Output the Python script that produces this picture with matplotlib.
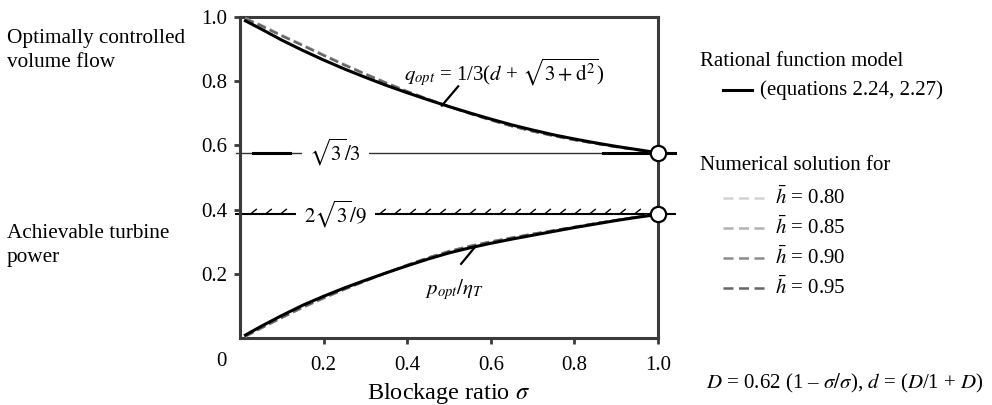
import numpy as np
import matplotlib
matplotlib.use("Agg")
import matplotlib.pyplot as plt
from matplotlib.lines import Line2D
from matplotlib.path import Path

plt.rcParams['font.family'] = ['Liberation Serif', 'DejaVu Serif']
plt.rcParams['mathtext.fontset'] = 'stix'

# blockage ratio sigma
sigma = [0.013, 0.05, 0.1, 0.15, 0.2, 0.25, 0.3, 0.35, 0.4, 0.45, 0.5,
         0.55, 0.6, 0.65, 0.7, 0.75, 0.8, 0.85, 0.9, 0.95, 1.0]

# rational function model
q_model = [0.988, 0.963, 0.928, 0.896, 0.866, 0.838, 0.812, 0.787, 0.764, 0.742, 0.721,
           0.701, 0.682, 0.664, 0.648, 0.633, 0.620, 0.608, 0.597, 0.587, 0.577]
p_model = [0.009, 0.036, 0.070, 0.102, 0.130, 0.156, 0.180, 0.203, 0.225, 0.246, 0.265,
           0.281, 0.295, 0.308, 0.320, 0.332, 0.344, 0.355, 0.366, 0.376, 0.385]

# numerical solutions for h = 0.80 ... 0.95
h_labels = ['0.80', '0.85', '0.90', '0.95']
h_colors = ['#d2d2d2', '#b2b2b2', '#8c8c8c', '#666666']
q_num_080 = [0.996, 0.976, 0.944, 0.914, 0.883, 0.853, 0.824, 0.796, 0.769, 0.745, 0.721,
             0.699, 0.678, 0.660, 0.643, 0.629, 0.616, 0.605, 0.595, 0.586, 0.577]
q_num_085 = [0.995, 0.975, 0.943, 0.913, 0.882, 0.852, 0.823, 0.795, 0.769, 0.744, 0.721,
             0.699, 0.678, 0.660, 0.644, 0.629, 0.617, 0.606, 0.595, 0.586, 0.577]
q_num_090 = [0.995, 0.974, 0.942, 0.912, 0.881, 0.851, 0.822, 0.795, 0.768, 0.744, 0.721,
             0.699, 0.679, 0.660, 0.644, 0.630, 0.617, 0.606, 0.595, 0.586, 0.577]
q_num_095 = [0.994, 0.973, 0.941, 0.911, 0.880, 0.850, 0.822, 0.794, 0.768, 0.744, 0.721,
             0.699, 0.679, 0.660, 0.644, 0.630, 0.617, 0.606, 0.595, 0.586, 0.577]
p_num_080 = [0.004, 0.029, 0.062, 0.094, 0.123, 0.151, 0.177, 0.203, 0.228, 0.251, 0.271,
             0.287, 0.301, 0.313, 0.325, 0.335, 0.346, 0.357, 0.367, 0.377, 0.385]
p_num_085 = [0.005, 0.030, 0.063, 0.095, 0.124, 0.151, 0.177, 0.203, 0.228, 0.250, 0.271,
             0.287, 0.300, 0.313, 0.324, 0.335, 0.346, 0.357, 0.367, 0.377, 0.385]
p_num_090 = [0.005, 0.030, 0.063, 0.095, 0.124, 0.152, 0.178, 0.203, 0.227, 0.250, 0.270,
             0.286, 0.300, 0.312, 0.324, 0.335, 0.346, 0.357, 0.367, 0.377, 0.385]
p_num_095 = [0.006, 0.031, 0.064, 0.096, 0.125, 0.152, 0.178, 0.203, 0.227, 0.250, 0.270,
             0.286, 0.300, 0.312, 0.324, 0.335, 0.346, 0.357, 0.367, 0.377, 0.385]
q_num = [q_num_080, q_num_085, q_num_090, q_num_095]
p_num = [p_num_080, p_num_085, p_num_090, p_num_095]

q_limit = 0.577   # sqrt(3)/3
p_limit = 0.385   # 2 sqrt(3)/9

W, H = 992, 405
fig = plt.figure(figsize=(W / 100, H / 100), dpi=100)
ax = fig.add_axes([240 / W, 1 - 338 / H, 418 / W, 321 / H])
ax.set_xlim(0, 1)
ax.set_ylim(0, 1)

spine_col = '#3a3a3a'
for s in ax.spines.values():
    s.set_linewidth(2.2)
    s.set_color(spine_col)
ax.tick_params(direction='out', length=4, width=2, color=spine_col, labelsize=15)
ax.tick_params(axis='x', pad=9)
ax.tick_params(axis='y', pad=5)
ax.set_xticks([0.2, 0.4, 0.6, 0.8, 1.0])
ax.set_xticklabels(['0.2', '0.4', '0.6', '0.8', '1.0'])
ax.set_yticks([0.2, 0.4, 0.6, 0.8, 1.0])
ax.set_yticklabels(['0.2', '0.4', '0.6', '0.8', '1.0'])
ax.set_xlabel(r'Blockage ratio $\sigma$', fontsize=17.5, labelpad=4)
fig.text(221 / W, 1 - 362 / H, '0', fontsize=15, ha='center', va='center')

# reference lines
ax.plot([-0.01, 1.04], [q_limit, q_limit], color='#333333', lw=1.0, clip_on=False, zorder=2)
ax.plot([0.03, 0.12], [q_limit, q_limit], color='black', lw=2.2, clip_on=False, zorder=2)
ax.plot([0.868, 1.04], [q_limit, q_limit], color='black', lw=2.2, clip_on=False, zorder=2)
ax.plot([-0.01, 1.04], [p_limit, p_limit], color='black', lw=1.5, clip_on=False, zorder=2)
hatch = Path([(-0.4, 0.2), (0.6, 1.0)], [Path.MOVETO, Path.LINETO])
hx = list(np.arange(0.032, 0.15, 0.036)) + list(np.arange(0.34, 0.98, 0.0358))
ax.plot(hx, [p_limit] * len(hx), linestyle='none', marker=hatch, markersize=8,
        markeredgewidth=1.0, color='black', zorder=2)
ax.text(0.228, q_limit, r'$\sqrt{3}/3$', fontsize=15, ha='center', va='center', zorder=4,
        bbox=dict(boxstyle='square,pad=0.35', fc='white', ec='none'))
ax.text(0.228, p_limit, r'$2\sqrt{3}/9$', fontsize=15, ha='center', va='center', zorder=4,
        bbox=dict(boxstyle='square,pad=0.4', fc='white', ec='none'))

# numerical solutions
for i in range(len(h_labels)):
    ax.plot(sigma, q_num[i], color=h_colors[i], lw=1.6, linestyle=(0, (4, 2)), zorder=3)
    ax.plot(sigma, p_num[i], color=h_colors[i], lw=1.6, linestyle=(0, (4, 2)), zorder=3)

# rational function model
ax.plot(sigma, q_model, color='black', lw=2.2, zorder=3)
ax.plot(sigma, p_model, color='black', lw=2.2, zorder=3)

ax.plot([1.0, 1.0], [q_limit, p_limit], 'o', ms=11, mfc='white', mec='black', mew=1.6,
        clip_on=False, zorder=6)

# curve labels with leaders
ax.plot([0.483, 0.522], [0.724, 0.784], color='black', lw=1.6, zorder=4)
ax.text(0.393, 0.828, r'$q_{opt}$ = 1/3($d$ + $\sqrt{3 + \mathrm{d}^2}$)', fontsize=15,
        ha='left', va='center')
ax.plot([0.529, 0.562], [0.231, 0.283], color='black', lw=1.6, zorder=4)
ax.text(0.443, 0.15, r'$p_{opt}/\eta_T$', fontsize=15, ha='left', va='center')

# left labels
fig.text(7 / W, 1 - 50.5 / H, 'Optimally controlled\nvolume flow', fontsize=15.3, ha='left',
         va='center', linespacing=1.4)
fig.text(7 / W, 1 - 245.5 / H, 'Achievable turbine\npower', fontsize=15.3, ha='left',
         va='center', linespacing=1.4)

# legend drawn by hand
fig.text(700 / W, 1 - 61 / H, 'Rational function model', fontsize=15, ha='left', va='center')
fig.add_artist(Line2D([723 / W, 752 / W], [1 - 90 / H, 1 - 90 / H], color='black', lw=2.2))
fig.text(760 / W, 1 - 90 / H, '(equations 2.24, 2.27)', fontsize=15, ha='left', va='center')
fig.text(700 / W, 1 - 165 / H, 'Numerical solution for', fontsize=15, ha='left', va='center')
for i, lab in enumerate(h_labels):
    yy = 1 - (198 + 30 * i) / H
    fig.add_artist(Line2D([723 / W, 768 / W], [yy, yy], color=h_colors[i], lw=1.8,
                          linestyle=(0, (4, 2.2))))
    fig.text(775 / W, yy, r'$\bar{h}$' + ' = ' + lab, fontsize=15, ha='left', va='center')

fig.text(706 / W, 1 - 383 / H, r'$D$ = 0.62 (1 – $\sigma/\sigma$), $d$ = ($D$/1 + $D$)',
         fontsize=15, ha='left', va='center')

fig.savefig('out.png', dpi=100)
